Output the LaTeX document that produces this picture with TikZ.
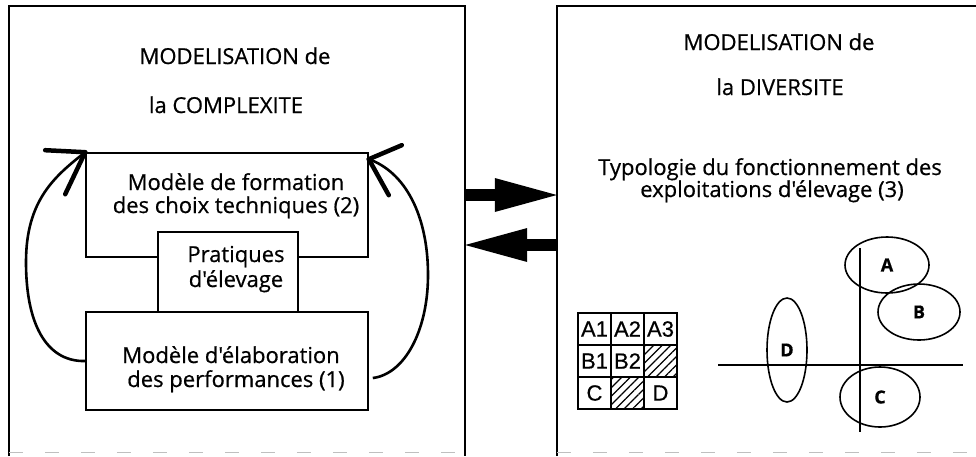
\documentclass[tikz,border=0pt]{standalone}
\usepackage{fontspec}
\setmainfont{Open Sans}[Ligatures=TeXOff, FakeBold=0.6]
\newfontfamily\cellfont{Liberation Sans}[FakeBold=0.6]
\usetikzlibrary{shapes.geometric,patterns.meta,arrows.meta}

\tikzset{
  frame/.style={line width=1.8pt},
  faint/.style={draw=black!25, dash pattern=on 14pt off 22pt, line width=1pt},
  mbox/.style={draw, line width=1.6pt, inner sep=0pt},
  txt/.style={font=\fontsize{22}{26}\selectfont, anchor=base, inner sep=0pt},
  arcline/.style={line width=2.6pt},
  barb/.style={line width=4.5pt, line cap=round},
  fatarrow/.style={line width=12pt, -{Triangle[length=62pt 0 0, width=34pt 0 0, line width=0pt 0 0]}},
  cell/.style={draw, line width=1.4pt, minimum width=33pt, minimum height=32pt, inner sep=0pt,
               font=\cellfont\fontsize{22}{24}\selectfont},
  hatched/.style={pattern={Lines[angle=45, distance=6pt, line width=1.3pt]}},
  grp/.style={draw, ellipse, line width=1.6pt, inner sep=0pt, font=\bfseries\fontsize{18}{20}\selectfont},
  axis/.style={line width=2pt}
}

\begin{document}
\begin{tikzpicture}[x=1pt, y=-1pt]
\useasboundingbox (0,0) rectangle (976,456);

% the two panels
\node[inner sep=0pt, minimum width=456pt, minimum height=446pt] (cplx) at (237,229) {};
\node[inner sep=0pt, minimum width=421pt, minimum height=446pt] (divs) at (767.5,229) {};
\draw[frame] ([yshift=-4pt]cplx.south west) -- (cplx.north west) -- (cplx.north east) -- ([yshift=-4pt]cplx.south east);
\draw[faint] (cplx.south west) -- (cplx.south east);
\draw[frame] ([yshift=-4pt]divs.south west) -- (divs.north west) -- (divs.north east);
\draw[faint] (divs.south west) -- (divs.south east);

% left panel: titles
\node[txt] (t1) at (235,64) {MODELISATION de};
\node[txt] (t2) at (226,113) {la COMPLEXITE};

% the three models
\node[mbox, minimum width=282pt, minimum height=104pt] (fm) at (227,205) {};
\node[mbox, minimum width=282pt, minimum height=98pt] (el) at (227,361) {};
\node[mbox, fill=white, minimum width=140pt, minimum height=80pt] (pr) at (228,272) {};

\node[txt] (fm1) at (236,190) {Modèle de formation};
\node[txt] (fm2) at (236,213) {des choix techniques (2)};
\node[txt] (pr1) at (236,262) {Pratiques};
\node[txt] (pr2) at (236,287) {d'élevage};
\node[txt] (el1) at (231,363) {Modèle d'élaboration};
\node[txt] (el2) at (236,387) {des performances (1)};

% feedback loops
\draw[arcline] (el.west) .. controls (50,362) and (26,330) .. (26,262)
  .. controls (26,200) and (55,176) .. (fm.north west);
\draw[barb] (fm.north west) -- ++(-40,-2);
\draw[barb] (fm.north west) -- ++(-20,42);

\coordinate (rs) at ([xshift=4pt, yshift=-17pt]el.east);
\coordinate (re) at ([yshift=-7pt]fm.north east);
\draw[arcline] (rs) .. controls (405,374) and (428,330) .. (428,275)
  .. controls (428,215) and (405,172) .. (re);
\draw[barb] (re) -- ++(33,-14);
\draw[barb] (re) -- ++(20,36);

% exchange between the panels
\draw[fatarrow] (cplx.east |- 0,195) -- (divs.west |- 0,195);
\draw[fatarrow] (divs.west |- 0,245) -- (cplx.east |- 0,245);

% right panel: titles
\node[txt] (d1) at (779,50) {MODELISATION de};
\node[txt] (d2) at (780,95) {la DIVERSITE};
\node[txt] (d3) at (770,175) {Typologie du fonctionnement des};
\node[txt] (d4) at (772,197) {exploitations d'élevage (3)};

% typology table
\node[cell] (a1) at (594.5,329) {A1};
\node[cell] (a2) at (627.5,329) {A2};
\node[cell] (a3) at (660.5,329) {A3};
\node[cell] (b1) at (594.5,361) {B1};
\node[cell] (b2) at (627.5,361) {B2};
\node[cell, hatched] (b3) at (660.5,361) {};
\node[cell] (c1) at (594.5,393) {C};
\node[cell, hatched] (c2) at (627.5,393) {};
\node[cell] (c3) at (660.5,393) {D};

% factorial plane with groups
\coordinate (hx1) at (718,365);
\coordinate (hx2) at (963,365);
\coordinate (vy1) at (860,248);
\coordinate (vy2) at (860,432);
\draw[axis] (hx1) -- (hx2);
\draw[axis] (vy1) -- (vy2);

\node[grp, minimum width=84pt, minimum height=56pt] (gA) at (887,265) {A};
\node[grp, minimum width=82pt, minimum height=56pt] (gB) at (919,312) {B};
\node[grp, minimum width=80pt, minimum height=60pt] (gC) at (880,397) {C};
\node[grp, minimum width=40pt, minimum height=104pt] (gD) at (787,350) {D};
\end{tikzpicture}
\end{document}
